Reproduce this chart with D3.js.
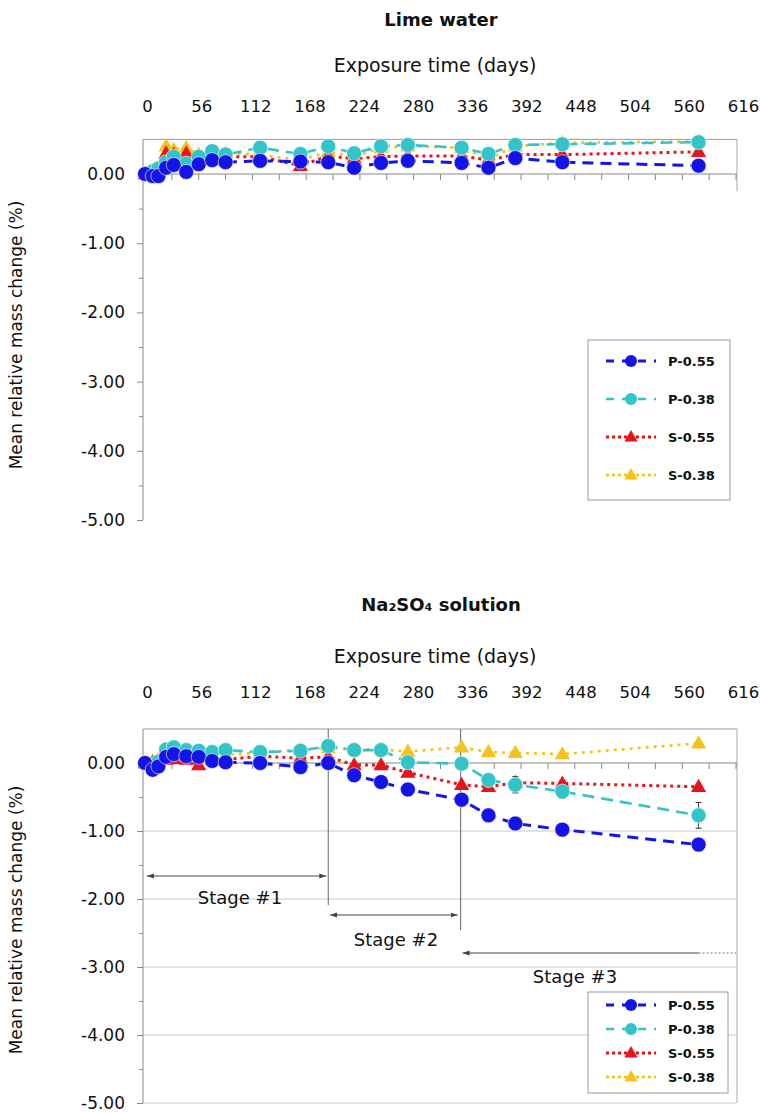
<!DOCTYPE html>
<html><head><meta charset="utf-8">
<script src="https://cdn.jsdelivr.net/npm/d3@7"></script>
<style>body{margin:0;background:#fff}svg{display:block}text{font-family:"DejaVu Sans",sans-serif;fill:#111}</style>
</head><body><svg id="c" width="760" height="1113"></svg>
<script>
// ---------- data ----------
const seriesNames = ["P-0.55", "P-0.38", "S-0.55", "S-0.38"];
const xTickValues = [0, 56, 112, 168, 224, 280, 336, 392, 448, 504, 560, 616];
const yTickValues = [0, -1, -2, -3, -4, -5];

// Lime water
const limeDays  = [0, 8, 14, 22, 30, 43, 56, 70, 84, 120, 162, 191, 218, 246, 274, 330, 358, 386, 435, 577];
const limeP055  = [0.00, -0.03, -0.03, 0.09, 0.13, 0.03, 0.14, 0.20, 0.17, 0.19, 0.18, 0.17, 0.09, 0.16, 0.19, 0.16, 0.09, 0.23, 0.17, 0.12];
const limeP038  = [0.00, 0.04, 0.08, 0.17, 0.25, 0.15, 0.25, 0.33, 0.28, 0.38, 0.29, 0.40, 0.30, 0.40, 0.42, 0.38, 0.29, 0.42, 0.43, 0.46];
const limeS055  = [0.00, 0.02, 0.05, 0.30, 0.28, 0.30, 0.24, 0.30, 0.25, 0.25, 0.12, 0.26, 0.22, 0.25, 0.26, 0.26, 0.20, 0.28, 0.28, 0.32];
const limeS038  = [0.00, 0.05, 0.10, 0.40, 0.35, 0.38, 0.28, 0.32, 0.30, 0.28, 0.20, 0.32, 0.25, 0.38, 0.40, 0.38, 0.22, 0.40, 0.45, 0.47];

// Na2SO4 solution
const naDays  = [0, 8, 14, 22, 30, 43, 56, 70, 84, 120, 162, 191, 218, 246, 274, 330, 358, 386, 435, 577];
const naP055  = [0.00, -0.10, -0.05, 0.09, 0.13, 0.10, 0.09, 0.03, 0.01, 0.00, -0.06, 0.00, -0.18, -0.28, -0.39, -0.54, -0.77, -0.89, -0.98, -1.20];
const naP038  = [0.00, -0.04, 0.02, 0.20, 0.23, 0.19, 0.18, 0.16, 0.19, 0.16, 0.18, 0.25, 0.19, 0.19, 0.01, -0.01, -0.25, -0.32, -0.42, -0.77];
const naS055  = [0.00, 0.00, 0.02, 0.05, 0.06, 0.05, -0.03, 0.04, 0.05, 0.10, 0.07, 0.09, -0.03, -0.03, -0.14, -0.32, -0.35, -0.29, -0.30, -0.35];
const naS038  = [0.00, 0.03, 0.05, 0.12, 0.14, 0.12, 0.10, 0.10, 0.12, 0.15, 0.20, 0.22, 0.20, 0.20, 0.17, 0.23, 0.16, 0.15, 0.13, 0.29];
const naErrP038 = [0, 0, 0, 0, 0, 0, 0, 0, 0, 0, 0, 0, 0, 0, 0, 0, 0.07, 0.12, 0.10, 0.19];
const naErrS055 = [0, 0, 0, 0, 0, 0, 0, 0, 0, 0, 0, 0, 0, 0, 0, 0, 0.05, 0.05, 0.04, 0];

const stageLabels = ["Stage #1", "Stage #2", "Stage #3"];
const stageStart  = [2, 193, 331];
const stageEnd    = [189, 326, 577];
const stageDividers = [191, 329];

// ---------- styling ----------
const styles = {
  "P-0.55": {color: "#1414e6", dash: "11,7", width: 3, shape: "circle", r: 7.5},
  "P-0.38": {color: "#33c4c8", dash: "12,7", width: 2.6, shape: "circle", r: 7.5},
  "S-0.55": {color: "#e8141c", dash: "3,4", width: 3, shape: "tri", r: 8},
  "S-0.38": {color: "#f4c21c", dash: "3,5", width: 2.6, shape: "tri", r: 8}
};
const drawOrder = ["S-0.38", "S-0.55", "P-0.38", "P-0.55"];

const svg = d3.select("#c");
const defs = svg.append("defs");
defs.append("marker").attr("id", "arr").attr("viewBox", "0 0 10 10").attr("refX", 10).attr("refY", 5)
  .attr("markerWidth", 7).attr("markerHeight", 7).attr("orient", "auto-start-reverse")
  .append("path").attr("d", "M0,1.5 L10,5 L0,8.5 Z").attr("fill", "#444");

function drawPanel(p) {
  const g = svg.append("g");
  const x = d3.scaleLinear().domain([0, 616]).range([145, 736]);
  const xLab = d3.scaleLinear().domain([0, 616]).range([147, 743]);
  const y = d3.scaleLinear().domain([-5, 0.5]).range([p.yBottom, p.yBottom - 5.5 * p.unit]);

  g.append("text").attr("x", 441).attr("y", p.titleY).attr("text-anchor", "middle")
    .attr("font-size", 18).attr("font-weight", "bold").text(p.title);
  g.append("text").attr("x", 435).attr("y", p.xTitleY).attr("text-anchor", "middle")
    .attr("font-size", 19).text("Exposure time (days)");

  // top tick labels
  const xa = g.append("g").attr("transform", `translate(0,${p.xLabY})`)
    .call(d3.axisTop(xLab).tickValues(xTickValues).tickSize(0).tickPadding(0).tickFormat(d3.format("d")));
  xa.select(".domain").remove();
  xa.selectAll("text").attr("font-size", 16.5).attr("font-family", "DejaVu Sans").attr("fill", "#111");

  // gridlines
  if (p.grid) {
    g.append("g").selectAll("line").data([-1, -2, -3, -4, -5]).join("line")
      .attr("x1", 143).attr("x2", 736).attr("y1", d => y(d)).attr("y2", d => y(d))
      .attr("stroke", "#c8c8c8").attr("stroke-width", 1);
  }
  // frame: top border, right border
  g.append("line").attr("x1", 143).attr("x2", 737).attr("y1", y(0.5)).attr("y2", y(0.5)).attr("stroke", "#999");
  g.append("line").attr("x1", 737).attr("x2", 737).attr("y1", y(0.5)).attr("y2", p.grid ? y(-5) : y(-0.25)).attr("stroke", "#aaa");

  // y axis
  const ya = g.append("g").attr("transform", "translate(143,0)")
    .call(d3.axisLeft(y).tickValues(yTickValues).tickSize(6).tickPadding(12).tickFormat(d => d.toFixed(2)));
  ya.select(".domain").attr("stroke", "#888").attr("d", `M0,${y(0.5)}V${y(-5)}`);
  ya.selectAll(".tick line").attr("stroke", "#888");
  ya.selectAll("text").attr("font-size", 17).attr("font-family", "DejaVu Sans").attr("fill", "#111");
  const ym = g.append("g").attr("transform", "translate(143,0)")
    .call(d3.axisLeft(y).tickValues([-4.5, -3.5, -2.5, -1.5, -0.5]).tickSize(4).tickFormat(""));
  ym.select(".domain").remove();
  ym.selectAll(".tick line").attr("stroke", "#888");

  g.append("text").attr("transform", `translate(22,${p.yTitleY}) rotate(-90)`).attr("text-anchor", "middle")
    .attr("font-size", 17).text("Mean relative mass change (%)");

  // zero line with ticks
  g.append("line").attr("x1", 143).attr("x2", 737).attr("y1", y(0)).attr("y2", y(0)).attr("stroke", "#888");
  g.append("g").selectAll("line").data(d3.range(28, 617, 28)).join("line")
    .attr("x1", d => x(d)).attr("x2", d => x(d)).attr("y1", y(0)).attr("y2", y(0) + 6).attr("stroke", "#888");

  // stages
  if (p.stages) {
    stageDividers.forEach((d, i) => {
      g.append("line").attr("x1", x(d)).attr("x2", x(d)).attr("y1", y(0.5)).attr("y2", p.divEnd[i])
        .attr("stroke", "#666").attr("stroke-width", 1);
    });
    stageLabels.forEach((s, i) => {
      const ay = p.stageArrowY[i];
      const ln = g.append("line").attr("x1", x(stageStart[i])).attr("x2", x(stageEnd[i])).attr("y1", ay).attr("y2", ay)
        .attr("stroke", "#444").attr("stroke-width", 1).attr("marker-start", "url(#arr)");
      if (i < 2) ln.attr("marker-end", "url(#arr)");
      g.append("text").attr("x", p.stageTextX[i]).attr("y", p.stageTextY[i]).attr("text-anchor", "middle")
        .attr("font-size", 18).text(s);
    });
    g.append("line").attr("x1", x(stageEnd[2])).attr("x2", x(616)).attr("y1", p.stageArrowY[2]).attr("y2", p.stageArrowY[2])
      .attr("stroke", "#777").attr("stroke-dasharray", "2,2");
  }

  // series
  const tri = r => `M0,${-r} L${r * 0.95},${r * 0.65} L${-r * 0.95},${r * 0.65} Z`;
  drawOrder.forEach(name => {
    const st = styles[name];
    const vals = p.series[name];
    const pts = p.days.map((d, i) => [d, vals[i]]);
    g.append("path").datum(pts).attr("fill", "none").attr("stroke", st.color).attr("stroke-width", st.width)
      .attr("stroke-dasharray", st.dash).attr("d", d3.line().x(d => x(d[0])).y(d => y(d[1])));
  });
  drawOrder.forEach(name => {
    const st = styles[name];
    const vals = p.series[name];
    const err = p.errors[name];
    if (err) {
      const eg = g.append("g").attr("stroke", "#333").attr("stroke-width", 1);
      p.days.forEach((d, i) => {
        if (!err[i]) return;
        const cx = x(d), y1 = y(vals[i] + err[i]), y2 = y(vals[i] - err[i]);
        eg.append("line").attr("x1", cx).attr("x2", cx).attr("y1", y1).attr("y2", y2);
        eg.append("line").attr("x1", cx - 3).attr("x2", cx + 3).attr("y1", y1).attr("y2", y1);
        eg.append("line").attr("x1", cx - 3).attr("x2", cx + 3).attr("y1", y2).attr("y2", y2);
      });
    }
    const mg = g.append("g");
    p.days.forEach((d, i) => {
      if (st.shape === "circle") {
        mg.append("circle").attr("cx", x(d)).attr("cy", y(vals[i])).attr("r", st.r)
          .attr("fill", st.color).attr("stroke", "#fff").attr("stroke-width", 0.6);
      } else {
        mg.append("path").attr("transform", `translate(${x(d)},${y(vals[i])})`).attr("d", tri(st.r))
          .attr("fill", st.color);
      }
    });
  });

  // legend
  const L = p.legend;
  const lg = g.append("g");
  lg.append("rect").attr("x", L.x).attr("y", L.y).attr("width", L.w).attr("height", L.h)
    .attr("fill", "#fff").attr("stroke", "#999").attr("stroke-width", 1);
  seriesNames.forEach((name, i) => {
    const st = styles[name];
    const ry = L.y + L.first + i * L.step;
    lg.append("line").attr("x1", L.x + 18).attr("x2", L.x + 68).attr("y1", ry).attr("y2", ry)
      .attr("stroke", st.color).attr("stroke-width", st.width).attr("stroke-dasharray", name.startsWith("P") ? "8,8" : "3,3");
    if (st.shape === "circle") lg.append("circle").attr("cx", L.x + 43).attr("cy", ry).attr("r", 6).attr("fill", st.color);
    else lg.append("path").attr("transform", `translate(${L.x + 43},${ry})`).attr("d", tri(7)).attr("fill", st.color);
    lg.append("text").attr("x", L.x + 80).attr("y", ry + 5).attr("font-size", 13).attr("font-weight", "bold").text(name);
  });
}

drawPanel({
  title: "Lime water", titleY: 26, xTitleY: 72, xLabY: 112,
  yBottom: 520, unit: 69.2, yTitleY: 335, grid: false, stages: false,
  days: limeDays,
  series: {"P-0.55": limeP055, "P-0.38": limeP038, "S-0.55": limeS055, "S-0.38": limeS038},
  errors: {},
  legend: {x: 588, y: 340, w: 142, h: 160, first: 21, step: 38}
});

drawPanel({
  title: "Na₂SO₄ solution", titleY: 611, xTitleY: 663, xLabY: 698,
  yBottom: 1103, unit: 68, yTitleY: 920, grid: true, stages: true,
  days: naDays,
  series: {"P-0.55": naP055, "P-0.38": naP038, "S-0.55": naS055, "S-0.38": naS038},
  errors: {"P-0.38": naErrP038, "S-0.55": naErrS055},
  legend: {x: 588, y: 992, w: 140, h: 101, first: 13, step: 24},
  divEnd: [905, 930],
  stageArrowY: [876, 915, 953],
  stageTextX: [240, 396, 575],
  stageTextY: [904, 946, 983]
});
</script></body></html>
